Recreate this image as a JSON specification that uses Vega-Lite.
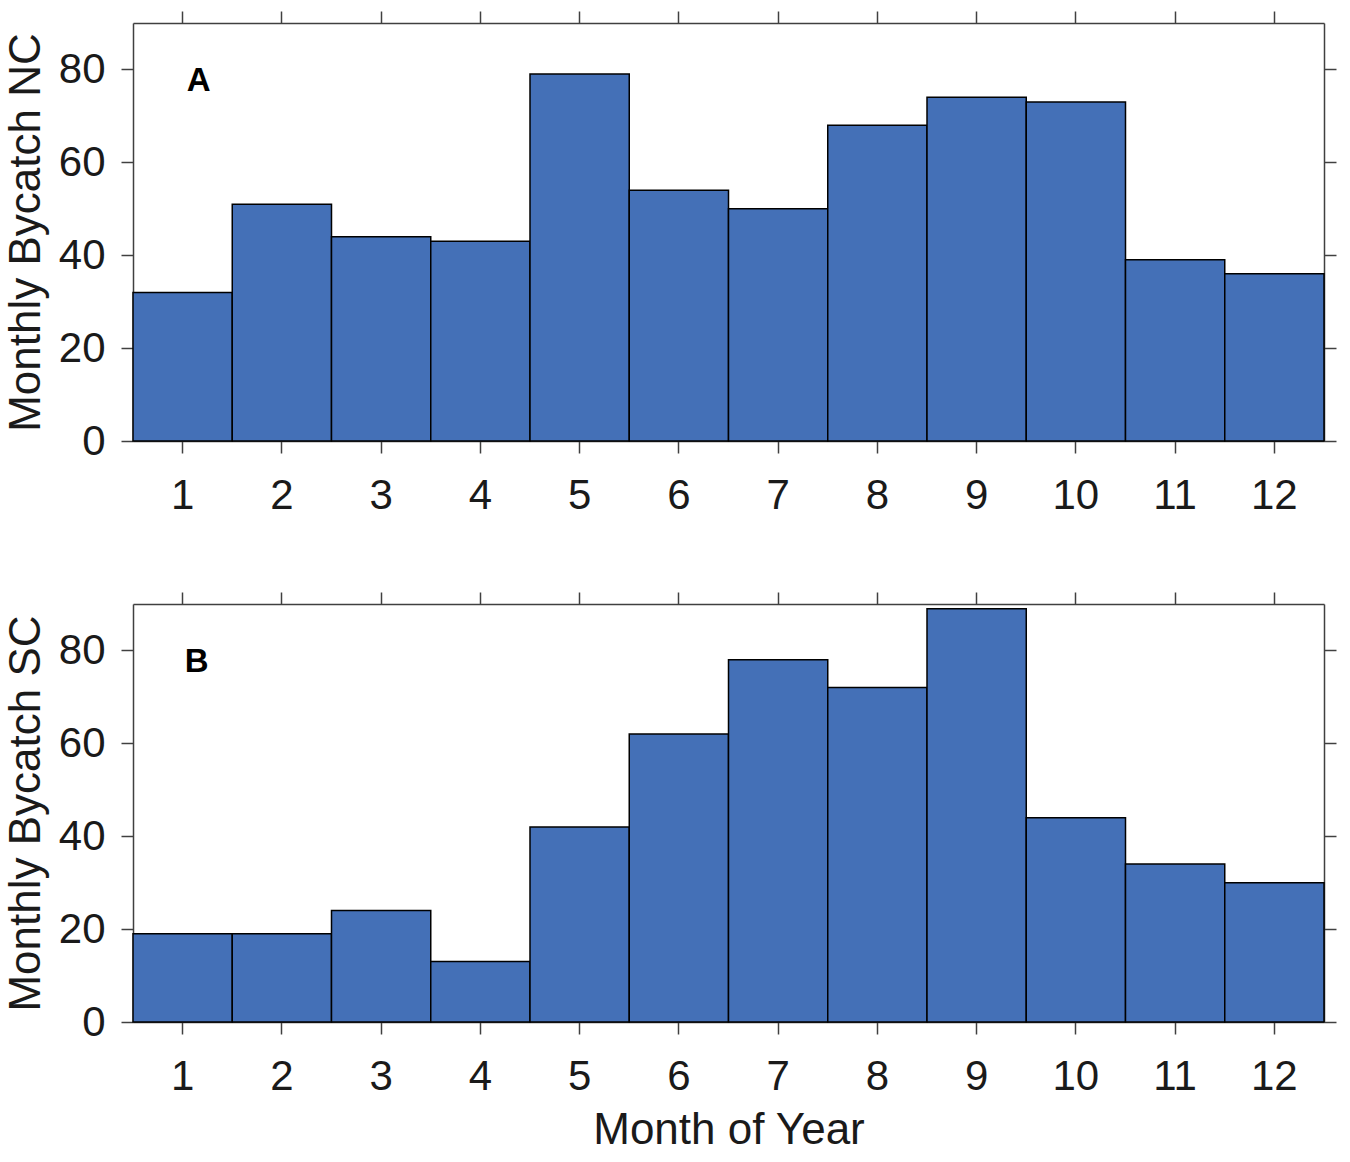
{
  "$schema": "https://vega.github.io/schema/vega-lite/v6.json",
  "padding": {"left": 4, "top": 10, "right": 5, "bottom": 5},
  "background": "white",
  "config": {
    "view": {"stroke": null},
    "font": "Liberation Sans",
    "axis": {
      "domainColor": "#404040",
      "domainWidth": 1.5,
      "tickColor": "#404040",
      "tickWidth": 1.5,
      "tickSize": 12,
      "grid": false,
      "labelFont": "Liberation Sans",
      "labelFontSize": 42,
      "labelColor": "#1a1a1a",
      "titleFont": "Liberation Sans",
      "titleFontSize": 44,
      "titleFontWeight": "normal",
      "titleColor": "#1a1a1a"
    }
  },
  "datasets": {
    "nc": [
      {"month": 1, "count": 32}, {"month": 2, "count": 51}, {"month": 3, "count": 44},
      {"month": 4, "count": 43}, {"month": 5, "count": 79}, {"month": 6, "count": 54},
      {"month": 7, "count": 50}, {"month": 8, "count": 68}, {"month": 9, "count": 74},
      {"month": 10, "count": 73}, {"month": 11, "count": 39}, {"month": 12, "count": 36}
    ],
    "sc": [
      {"month": 1, "count": 19}, {"month": 2, "count": 19}, {"month": 3, "count": 24},
      {"month": 4, "count": 13}, {"month": 5, "count": 42}, {"month": 6, "count": 62},
      {"month": 7, "count": 78}, {"month": 8, "count": 72}, {"month": 9, "count": 89},
      {"month": 10, "count": 44}, {"month": 11, "count": 34}, {"month": 12, "count": 30}
    ],
    "labelA": [{"month": 1, "count": 77.5, "panel": "A"}],
    "labelB": [{"month": 1, "count": 77.5, "panel": "B"}]
  },
  "vconcat": [
    {
      "width": 1191,
      "height": 418,
      "layer": [
        {
          "data": {"name": "nc"},
          "mark": {"type": "bar", "fill": "#4470b7", "stroke": "black", "strokeWidth": 1.5},
          "encoding": {
            "x": {"field": "month", "type": "ordinal", "sort": null,
              "scale": {"paddingInner": 0, "paddingOuter": 0},
              "axis": {"orient": "bottom", "title": null, "labelAngle": 0, "labelPadding": 22}},
            "y": {"field": "count", "type": "quantitative",
              "scale": {"domain": [0, 90], "nice": false},
              "axis": {"orient": "left", "values": [0, 20, 40, 60, 80], "title": "Monthly Bycatch NC", "labelPadding": 16, "titlePadding": 10}}
          }
        },
        {
          "data": {"name": "nc"},
          "mark": {"type": "bar", "opacity": 0},
          "encoding": {
            "x": {"field": "month", "type": "ordinal", "sort": null,
              "axis": {"orient": "top", "title": null, "labels": false}},
            "y": {"field": "count", "type": "quantitative",
              "axis": {"orient": "right", "values": [0, 20, 40, 60, 80], "title": null, "labels": false}}
          }
        },
        {
          "data": {"name": "labelA"},
          "mark": {"type": "text", "fontSize": 33, "fontWeight": "bold", "font": "Liberation Sans", "color": "black", "dx": 16, "align": "center", "baseline": "middle"},
          "encoding": {
            "x": {"field": "month", "type": "ordinal", "axis": null},
            "y": {"field": "count", "type": "quantitative", "axis": null},
            "text": {"field": "panel"}
          }
        }
      ],
      "resolve": {"axis": {"x": "independent", "y": "independent"}}
    },
    {
      "width": 1191,
      "height": 418,
      "layer": [
        {
          "data": {"name": "sc"},
          "mark": {"type": "bar", "fill": "#4470b7", "stroke": "black", "strokeWidth": 1.5},
          "encoding": {
            "x": {"field": "month", "type": "ordinal", "sort": null,
              "scale": {"paddingInner": 0, "paddingOuter": 0},
              "axis": {"orient": "bottom", "title": "Month of Year", "labelAngle": 0, "labelPadding": 22, "titlePadding": 11}},
            "y": {"field": "count", "type": "quantitative",
              "scale": {"domain": [0, 90], "nice": false},
              "axis": {"orient": "left", "values": [0, 20, 40, 60, 80], "title": "Monthly Bycatch SC", "labelPadding": 16, "titlePadding": 10}}
          }
        },
        {
          "data": {"name": "sc"},
          "mark": {"type": "bar", "opacity": 0},
          "encoding": {
            "x": {"field": "month", "type": "ordinal", "sort": null,
              "axis": {"orient": "top", "title": null, "labels": false}},
            "y": {"field": "count", "type": "quantitative",
              "axis": {"orient": "right", "values": [0, 20, 40, 60, 80], "title": null, "labels": false}}
          }
        },
        {
          "data": {"name": "labelB"},
          "mark": {"type": "text", "fontSize": 33, "fontWeight": "bold", "font": "Liberation Sans", "color": "black", "dx": 14, "align": "center", "baseline": "middle"},
          "encoding": {
            "x": {"field": "month", "type": "ordinal", "axis": null},
            "y": {"field": "count", "type": "quantitative", "axis": null},
            "text": {"field": "panel"}
          }
        }
      ],
      "resolve": {"axis": {"x": "independent", "y": "independent"}}
    }
  ],
  "spacing": 75
}
